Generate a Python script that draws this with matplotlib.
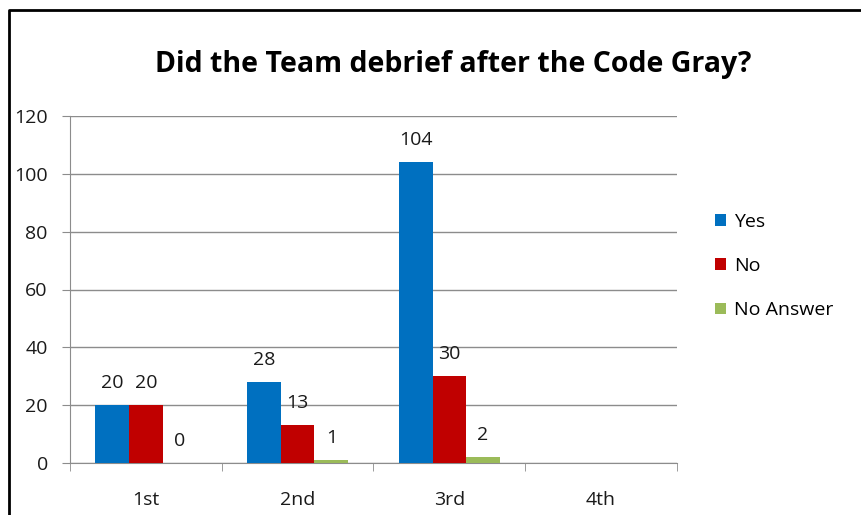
import numpy as np
import matplotlib.pyplot as plt
from matplotlib.lines import Line2D

plt.rcParams['font.family'] = ['Open Sans', 'DejaVu Sans']

categories = ['1st', '2nd', '3rd', '4th']
yes = [20, 28, 104, None]
no = [20, 13, 30, None]
no_answer = [0, 1, 2, None]

series = [('Yes', yes, '#0070C0'), ('No', no, '#C00000'), ('No Answer', no_answer, '#9BBB59')]

fig = plt.figure(figsize=(8.62, 5.15), dpi=100)
ax = fig.add_axes([70 / 862, 52 / 515, 607 / 862, 347 / 515])

width = 1 / 4.5
x = np.arange(len(categories))
for i, (name, vals, color) in enumerate(series):
    pos = [x[j] + (i - 1) * width for j in range(len(vals)) if vals[j] is not None]
    v = [vals[j] for j in range(len(vals)) if vals[j] is not None]
    ax.bar(pos, v, width, color=color, label=name, zorder=3)
    for p, val in zip(pos, v):
        ax.annotate(str(val), (p, val), xytext=(0, 16), textcoords='offset points',
                    ha='center', va='center', fontsize=14, color='#1a1a1a')

ax.set_xlim(-0.5, len(categories) - 0.5)
ax.set_ylim(0, 120)
ax.set_yticks(range(0, 121, 20))
ax.yaxis.grid(True, color='#8c8c8c', linewidth=1)
ax.set_axisbelow(True)
ax.set_xticks(x)
ax.set_xticklabels(categories)
ax.set_xticks(np.arange(-0.5, len(categories), 1), minor=True)
ax.tick_params(axis='x', which='major', length=0, pad=20, labelsize=14, colors='#1a1a1a')
ax.tick_params(axis='x', which='minor', length=6, color='#8c8c8c', direction='out')
ax.tick_params(axis='y', length=6, color='#8c8c8c', labelsize=14, colors='#1a1a1a', pad=10)
for s in ['top', 'right']:
    ax.spines[s].set_visible(False)
for s in ['left', 'bottom']:
    ax.spines[s].set_color('#8c8c8c')

fig.text(453 / 862, 1 - 65 / 515, 'Did the Team debrief after the Code Gray?',
         ha='center', va='center', fontsize=20.5, fontweight='bold', color='black')

ax.legend(loc='center left', bbox_to_anchor=(698 / 862, 1 - 266 / 515),
          bbox_transform=fig.transFigure, frameon=False, fontsize=14,
          handlelength=0.55, handleheight=0.55, handletextpad=0.4, labelspacing=1.35)

fig.add_artist(Line2D([9 / 862, 9 / 862, 1.0], [0.0, 1 - 10 / 515, 1 - 10 / 515],
                      transform=fig.transFigure, color='black', linewidth=2))

fig.savefig('out.png', dpi=100)
